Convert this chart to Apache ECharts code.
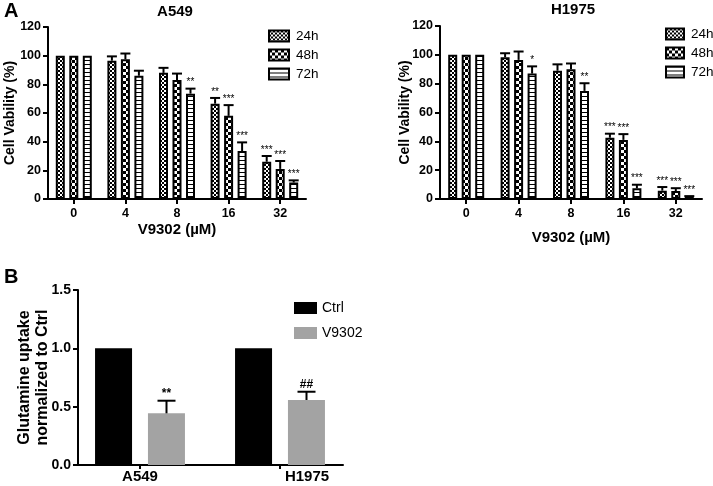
<!DOCTYPE html>
<html>
<head>
<meta charset="utf-8">
<script src="https://cdn.jsdelivr.net/npm/echarts@6/dist/echarts.min.js"></script>
<style>html,body{margin:0;padding:0;background:#fff}#c{width:713px;height:486px}</style>
</head>
<body>
<div id="c"></div>
<script>
// ---------- DATA ----------
const doses = ['0', '4', '8', '16', '32'];
const times = ['24h', '48h', '72h'];
const yTicksA = [0, 20, 40, 60, 80, 100, 120];

const a549_24 = [100, 96.5, 88, 66.5, 26];
const a549_24_err = [0, 3, 3.5, 4, 4];
const a549_48 = [100, 97.5, 83, 58, 21];
const a549_48_err = [0, 4, 4.5, 7.5, 5.5];
const a549_72 = [100, 86, 73.5, 33.5, 11.5];
const a549_72_err = [0, 3.5, 3.5, 6, 1.5];
const a549_24_sig = ['', '', '', '**', '***'];
const a549_48_sig = ['', '', '', '***', '***'];
const a549_72_sig = ['', '', '**', '***', '***'];

const h1975_24 = [100, 98.3, 89, 42.5, 5.8];
const h1975_24_err = [0, 2.8, 4.4, 2.8, 2.5];
const h1975_48 = [100, 96.5, 90, 41, 5.5];
const h1975_48_err = [0, 5.8, 4, 4, 2];
const h1975_72 = [100, 87, 75, 7.4, 1.4];
const h1975_72_err = [0, 5, 5.3, 2.5, 0.6];
const h1975_24_sig = ['', '', '', '***', '***'];
const h1975_48_sig = ['', '', '', '***', '***'];
const h1975_72_sig = ['', '*', '**', '***', '***'];

const cells = ['A549', 'H1975'];
const groupsB = ['Ctrl', 'V9302'];
const ctrlB = [1.0, 1.0];
const v9302B = [0.443, 0.557];
const v9302B_err = [0.108, 0.071];
const v9302B_sig = ['**', '##'];
const yTicksB = [0, 0.5, 1.0, 1.5];

// ---------- PATTERNS ----------
function makeTile(kind) {
  const c = document.createElement('canvas');
  const ctx = c.getContext('2d');
  if (kind === 'fine') {
    c.width = 4; c.height = 4;
    ctx.fillStyle = '#fff'; ctx.fillRect(0, 0, 4, 4);
    ctx.fillStyle = '#000'; ctx.fillRect(0, 0, 2, 2); ctx.fillRect(2, 2, 2, 2);
  } else if (kind === 'checker') {
    c.width = 6; c.height = 6;
    ctx.fillStyle = '#fff'; ctx.fillRect(0, 0, 6, 6);
    ctx.fillStyle = '#000'; ctx.fillRect(0, 0, 3, 3); ctx.fillRect(3, 3, 3, 3);
  } else {
    c.width = 4; c.height = 4;
    ctx.fillStyle = '#fff'; ctx.fillRect(0, 0, 4, 4);
    ctx.fillStyle = '#000'; ctx.fillRect(0, 0, 4, 1);
  }
  return { image: c, repeat: 'repeat' };
}
const patterns = [makeTile('fine'), makeTile('checker'), makeTile('stripe')];

const FONT = 'Liberation Sans, Arial, Helvetica, sans-serif';

// ---------- HELPERS ----------
function errSeries(xi, yi, means, errs, sig, offset, capW, sigFont) {
  return {
    type: 'custom', xAxisIndex: xi, yAxisIndex: yi, z: 5, silent: true,
    data: means.map((m, i) => [i, m, errs[i]]),
    renderItem: function (params, api) {
      const i = api.value(0), m = api.value(1), e = api.value(2);
      const base = api.coord([i, m]);
      const top = api.coord([i, m + e]);
      const x = base[0] + offset;
      const ch = [];
      if (e > 0) {
        ch.push({ type: 'line', shape: { x1: x, y1: base[1], x2: x, y2: top[1] }, style: { stroke: '#000', lineWidth: 2 } });
        ch.push({ type: 'line', shape: { x1: x - capW / 2, y1: top[1], x2: x + capW / 2, y2: top[1] }, style: { stroke: '#000', lineWidth: 2 } });
      }
      const s = sig[params.dataIndex];
      if (s) {
        ch.push({ type: 'text', style: { text: s, x: x, y: top[1] - 1, align: 'center', verticalAlign: 'bottom', textAlign: 'center', textVerticalAlign: 'bottom', font: sigFont, fill: '#000' } });
      }
      return { type: 'group', children: ch };
    }
  };
}

function axisLineStyle() { return { show: true, lineStyle: { color: '#000', width: 2 } }; }

function catAxis(gi, nameGap) {
  return {
    type: 'category', gridIndex: gi, data: doses,
    axisLine: axisLineStyle(),
    axisTick: { show: true, alignWithLabel: true, length: 5, lineStyle: { color: '#000', width: 2 } },
    axisLabel: { color: '#000', fontFamily: FONT, fontWeight: 'bold', fontSize: 12.5, margin: 8 },
    name: 'V9302 (µM)', nameLocation: 'middle', nameGap: nameGap, nameMoveOverlap: false,
    nameTextStyle: { color: '#000', fontFamily: FONT, fontWeight: 'bold', fontSize: 15 }
  };
}
function valAxisA(gi, nameGap) {
  return {
    type: 'value', gridIndex: gi, min: yTicksA[0], max: yTicksA[yTicksA.length - 1], interval: 20,
    axisLine: axisLineStyle(),
    axisTick: { show: true, length: 5, lineStyle: { color: '#000', width: 2 } },
    axisLabel: { color: '#000', fontFamily: FONT, fontWeight: 'bold', fontSize: 12.5, margin: 7 },
    splitLine: { show: false },
    name: 'Cell Vability (%)', nameLocation: 'middle', nameGap: nameGap, nameMoveOverlap: false,
    nameTextStyle: { color: '#000', fontFamily: FONT, fontWeight: 'bold', fontSize: 14 }
  };
}
function barA(name, k, xi, yi, vals) {
  return {
    type: 'bar', name: name, xAxisIndex: xi, yAxisIndex: yi, data: vals,
    barWidth: 9, barGap: '50%', silent: true,
    itemStyle: { color: patterns[k], borderColor: '#000', borderWidth: 2 }
  };
}

const sigFontA = '10px ' + FONT;
const offs = [-13.5, 0, 13.5];

const series = [
  barA(times[0], 0, 0, 0, a549_24),
  barA(times[1], 1, 0, 0, a549_48),
  barA(times[2], 2, 0, 0, a549_72),
  errSeries(0, 0, a549_24, a549_24_err, a549_24_sig, offs[0], 10, sigFontA),
  errSeries(0, 0, a549_48, a549_48_err, a549_48_sig, offs[1], 10, sigFontA),
  errSeries(0, 0, a549_72, a549_72_err, a549_72_sig, offs[2], 10, sigFontA),
  barA(times[0], 0, 1, 1, h1975_24),
  barA(times[1], 1, 1, 1, h1975_48),
  barA(times[2], 2, 1, 1, h1975_72),
  errSeries(1, 1, h1975_24, h1975_24_err, h1975_24_sig, offs[0], 10, sigFontA),
  errSeries(1, 1, h1975_48, h1975_48_err, h1975_48_sig, offs[1], 10, sigFontA),
  errSeries(1, 1, h1975_72, h1975_72_err, h1975_72_sig, offs[2], 10, sigFontA),
  {
    type: 'bar', name: groupsB[0], xAxisIndex: 2, yAxisIndex: 2, data: ctrlB,
    barWidth: 37, barGap: '43%', silent: true, itemStyle: { color: '#000' }
  },
  {
    type: 'bar', name: groupsB[1], xAxisIndex: 2, yAxisIndex: 2, data: v9302B,
    barWidth: 37, barGap: '43%', silent: true, itemStyle: { color: '#a3a3a3' }
  },
  errSeries(2, 2, v9302B, v9302B_err, v9302B_sig, 26.5, 18, 'bold 12px ' + FONT)
];

const option = {
  animation: false,
  backgroundColor: '#fff',
  grid: [
    { left: 48, top: 27, width: 258, height: 172, outerBoundsMode: 'none' },
    { left: 440, top: 26, width: 262, height: 173, outerBoundsMode: 'none' },
    { left: 70, top: 290, width: 280, height: 175, outerBoundsMode: 'none' },
    { left: 78, top: 290, width: 265, height: 175, outerBoundsMode: 'none' }
  ],
  xAxis: [
    catAxis(0, 23),
    catAxis(1, 31),
    {
      type: 'category', gridIndex: 2, data: cells,
      axisLine: { show: false },
      axisTick: { show: true, alignWithLabel: true, length: 4, lineStyle: { color: '#000', width: 2 } },
      axisLabel: {
        color: '#000', margin: 4,
        formatter: function (v) { return v === 'H1975' ? '{b|' + v + '}' : '{a|' + v + '}'; },
        rich: {
          a: { fontFamily: FONT, fontWeight: 'bold', fontSize: 15, color: '#000' },
          b: { fontFamily: FONT, fontWeight: 'bold', fontSize: 15, color: '#000', padding: [0, 0, 0, 54] }
        }
      }
    },
    {
      type: 'value', gridIndex: 3, min: 0, max: 1,
      axisLine: axisLineStyle(), axisTick: { show: false }, axisLabel: { show: false }, splitLine: { show: false }
    }
  ],
  yAxis: [
    valAxisA(0, 31),
    valAxisA(1, 28),
    { type: 'value', gridIndex: 2, min: 0, max: 1.5, interval: 0.5, show: false, splitLine: { show: false } },
    {
      type: 'value', gridIndex: 3, min: yTicksB[0], max: yTicksB[yTicksB.length - 1], interval: 0.5,
      axisLine: axisLineStyle(),
      axisTick: { show: true, length: 5, lineStyle: { color: '#000', width: 2 } },
      axisLabel: { color: '#000', fontFamily: FONT, fontWeight: 'bold', fontSize: 14, margin: 7, formatter: v => v.toFixed(1) },
      splitLine: { show: false },
      name: 'Glutamine uptake\nnormalized to Ctrl', nameLocation: 'middle', nameGap: 26, nameMoveOverlap: false,
      nameTextStyle: { color: '#000', fontFamily: FONT, fontWeight: 'bold', fontSize: 16, lineHeight: 18 }
    }
  ],
  legend: [
    {
      data: times, orient: 'vertical', left: 263, top: 24, itemWidth: 20, itemHeight: 11, itemGap: 5,
      icon: 'rect', selectedMode: false,
      textStyle: { color: '#000', fontFamily: FONT, fontSize: 13.5, padding: [0, 0, 0, 2] }
    },
    {
      data: times, orient: 'vertical', left: 660, top: 22, itemWidth: 18, itemHeight: 11, itemGap: 5,
      icon: 'rect', selectedMode: false,
      textStyle: { color: '#000', fontFamily: FONT, fontSize: 13.5, padding: [0, 0, 0, 2] }
    },
    {
      data: groupsB, orient: 'vertical', left: 289, top: 296, itemWidth: 23, itemHeight: 12, itemGap: 11,
      icon: 'rect', selectedMode: false,
      textStyle: { color: '#000', fontFamily: FONT, fontSize: 14 }
    }
  ],
  graphic: [
    { type: 'text', x: 4, y: 1, style: { text: 'A', font: 'bold 20px ' + FONT, fill: '#000' } },
    { type: 'text', x: 4, y: 267, style: { text: 'B', font: 'bold 20px ' + FONT, fill: '#000' } },
    { type: 'text', x: 175, y: 12, style: { text: 'A549', font: 'bold 15px ' + FONT, fill: '#000', align: 'center', verticalAlign: 'middle' } },
    { type: 'text', x: 573, y: 10, style: { text: 'H1975', font: 'bold 15px ' + FONT, fill: '#000', align: 'center', verticalAlign: 'middle' } }
  ],
  series: series
};

const chart = echarts.init(document.getElementById('c'));
chart.setOption(option);
</script>
</body>
</html>
